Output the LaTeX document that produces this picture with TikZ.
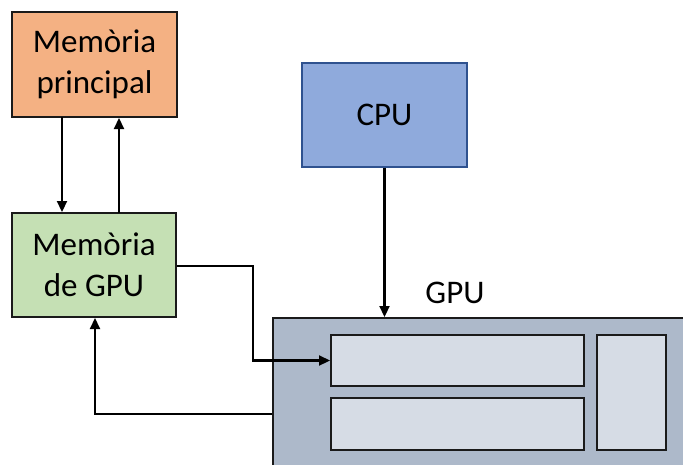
\documentclass[tikz,border=0pt]{standalone}
\usepackage{fontspec}
\setmainfont{Carlito}
\usetikzlibrary{arrows.meta}
\definecolor{orangefill}{HTML}{F4B183}
\definecolor{greenfill}{HTML}{C5E0B4}
\definecolor{bluefill}{HTML}{8FAADC}
\definecolor{blueline}{HTML}{2F528F}
\definecolor{gpufill}{HTML}{ADB9CA}
\definecolor{innerfill}{HTML}{D6DCE5}
\definecolor{lineblack}{HTML}{1A1A1A}
\begin{document}
\begin{tikzpicture}[x=1pt,y=-1pt,
  box/.style={draw=lineblack, line width=2pt, inner sep=0pt, align=center,
    font=\fontsize{33}{41}\selectfont},
  conn/.style={draw=black, line width=2.2pt, -{Triangle[length=11pt,width=10pt]}},
  plain/.style={draw=black, line width=2pt}]
\clip (0,0) rectangle (683,464);
\fill[white] (0,0) rectangle (683,464);
\node[box, fill=orangefill, minimum width=165pt, minimum height=105pt] (mp) at (94.5,64.5) {Memòria\\principal};
\node[box, fill=greenfill, minimum width=164pt, minimum height=104pt] (mg) at (94,265) {Memòria\\de GPU};
\node[box, draw=blueline, line width=1.4pt, fill=bluefill, minimum width=165pt, minimum height=104pt] (cpu) at (384.5,115) {CPU};
\node[box, fill=gpufill, minimum width=427pt, minimum height=162pt] (gpu) at (486.5,399) {};
\node[box, fill=innerfill, minimum width=253pt, minimum height=51pt] (in1) at (457.5,360.5) {};
\node[box, fill=innerfill, minimum width=253pt, minimum height=52pt] (in2) at (457.5,424) {};
\node[box, fill=innerfill, minimum width=69pt, minimum height=115pt] (in3) at (631.5,392.5) {};
\node[font=\fontsize{33}{40}\selectfont, inner sep=0pt] (gpulabel) at (455,293) {GPU};
\coordinate (mpL) at (62,117);
\coordinate (mpR) at (119,213);
\draw[conn] (mpL) -- (mpL |- mg.north);
\draw[conn] (mpR) -- (mpR |- mp.south);
\draw[conn] (cpu.south) -- (cpu.south |- gpu.north);
\coordinate (bend1) at (253,266);
\draw[conn] (mg.east |- bend1) -- (bend1) |- (in1.west);
\coordinate (ret) at (95,414);
\draw[conn] (gpu.west |- ret) -- (ret) -- (ret |- mg.south);
\end{tikzpicture}
\end{document}
